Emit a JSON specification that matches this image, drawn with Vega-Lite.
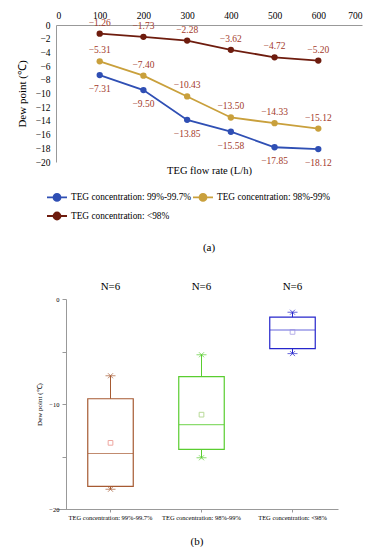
{
  "$schema": "https://vega.github.io/schema/vega-lite/v6.json",
  "background": "white",
  "padding": {"left": 16, "top": 10, "right": 5, "bottom": 0},
  "spacing": 28,
  "resolve": {"scale": {"color": "independent", "stroke": "independent"}, "legend": {"color": "independent", "stroke": "independent"}},
  "config": {
    "font": "Liberation Serif",
    "view": {"stroke": null},
    "axis": {"grid": false, "labelColor": "#000", "titleColor": "#000", "titleFontWeight": "normal", "domainColor": "#999", "tickColor": "#999", "labelFont": "Liberation Serif", "titleFont": "Liberation Serif"},
    "legend": {"labelFont": "Liberation Serif"},
    "text": {"font": "Liberation Serif"},
    "title": {"fontWeight": "normal", "color": "#000", "font": "Liberation Serif"}
  },
  "vconcat": [
    {
      "width": 306,
      "height": 137,
      "title": {"text": "(a)", "orient": "bottom", "fontSize": 11, "offset": 18},
      "data": {"values": [
        {"flow": 100, "dew": -7.31, "conc": "TEG concentration: 99%-99.7%"},
        {"flow": 200, "dew": -9.50, "conc": "TEG concentration: 99%-99.7%"},
        {"flow": 300, "dew": -13.85, "conc": "TEG concentration: 99%-99.7%"},
        {"flow": 400, "dew": -15.58, "conc": "TEG concentration: 99%-99.7%"},
        {"flow": 500, "dew": -17.85, "conc": "TEG concentration: 99%-99.7%"},
        {"flow": 600, "dew": -18.12, "conc": "TEG concentration: 99%-99.7%"},
        {"flow": 100, "dew": -5.31, "conc": "TEG concentration: 98%-99%"},
        {"flow": 200, "dew": -7.40, "conc": "TEG concentration: 98%-99%"},
        {"flow": 300, "dew": -10.43, "conc": "TEG concentration: 98%-99%"},
        {"flow": 400, "dew": -13.50, "conc": "TEG concentration: 98%-99%"},
        {"flow": 500, "dew": -14.33, "conc": "TEG concentration: 98%-99%"},
        {"flow": 600, "dew": -15.12, "conc": "TEG concentration: 98%-99%"},
        {"flow": 100, "dew": -1.26, "conc": "TEG concentration: <98%"},
        {"flow": 200, "dew": -1.73, "conc": "TEG concentration: <98%"},
        {"flow": 300, "dew": -2.28, "conc": "TEG concentration: <98%"},
        {"flow": 400, "dew": -3.62, "conc": "TEG concentration: <98%"},
        {"flow": 500, "dew": -4.72, "conc": "TEG concentration: <98%"},
        {"flow": 600, "dew": -5.20, "conc": "TEG concentration: <98%"}
      ]},
      "encoding": {
        "y": {"field": "dew", "type": "quantitative", "scale": {"domain": [-20, 0], "nice": false},
          "axis": {"values": [0, -2, -4, -6, -8, -10, -12, -14, -16, -18, -20], "title": "Dew point (℃)", "ticks": false, "labelPadding": 6, "labelFontSize": 9.5, "titleFontSize": 11, "titlePadding": 8}}
      },
      "layer": [
        {
          "mark": {"type": "line", "strokeWidth": 1.8, "point": {"filled": true, "size": 40}},
          "encoding": {
            "x": {"field": "flow", "type": "quantitative", "scale": {"domain": [0, 700], "nice": false},
              "axis": {"orient": "top", "title": null, "values": [0, 100, 200, 300, 400, 500, 600, 700], "ticks": false, "labelPadding": 5, "labelFontSize": 9.5}},
            "color": {"field": "conc", "type": "nominal", "sort": null,
              "scale": {"domain": ["TEG concentration: 99%-99.7%", "TEG concentration: 98%-99%", "TEG concentration: <98%"], "range": ["#2F4FB4", "#C9A03C", "#6E1C0E"]},
              "legend": {"orient": "none", "direction": "horizontal", "legendX": -10, "legendY": 161, "padding": 0, "columns": 2, "title": null, "symbolType": "M-1,0H1M0.35,0A0.35,0.35,0,1,1,-0.35,0A0.35,0.35,0,1,1,0.35,0Z", "symbolSize": 400, "symbolStrokeWidth": 1.8, "labelFontSize": 9.3, "labelOffset": 3, "columnPadding": -6, "rowPadding": -6, "labelLimit": 300, "labelColor": "#000"}}
          }
        },
        {
          "transform": [{"filter": "datum.conc == 'TEG concentration: 99%-99.7%'"}],
          "mark": {"type": "text", "dy": 14, "fontSize": 9.5, "color": "#A33A2A"},
          "encoding": {
            "x": {"field": "flow", "type": "quantitative",
              "axis": {"orient": "bottom", "labels": false, "ticks": false, "domain": false, "title": "TEG flow rate (L/h)", "titleFontSize": 10.5, "titlePadding": 3}},
            "text": {"field": "dew", "type": "quantitative", "format": ".2f"}
          }
        },
        {
          "transform": [{"filter": "datum.conc != 'TEG concentration: 99%-99.7%'"}],
          "mark": {"type": "text", "dy": -11, "fontSize": 9.5, "color": "#A33A2A"},
          "encoding": {
            "x": {"field": "flow", "type": "quantitative", "axis": null},
            "text": {"field": "dew", "type": "quantitative", "format": ".2f"}
          }
        }
      ]
    },
    {
      "width": 282,
      "height": 210,
      "title": {"text": "(b)", "orient": "bottom", "fontSize": 11, "offset": 15},
      "data": {"values": [
        {"conc": "TEG concentration: 99%-99.7%", "min": -18.12, "q1": -17.85, "median": -14.715, "q3": -9.50, "max": -7.31, "mean": -13.70, "n": "N=6"},
        {"conc": "TEG concentration: 98%-99%", "min": -15.12, "q1": -14.33, "median": -11.965, "q3": -7.40, "max": -5.31, "mean": -11.015, "n": "N=6"},
        {"conc": "TEG concentration: <98%", "min": -5.20, "q1": -4.72, "median": -2.95, "q3": -1.73, "max": -1.26, "mean": -3.135, "n": "N=6"}
      ]},
      "encoding": {
        "x": {"field": "conc", "type": "nominal", "sort": null,
          "scale": {"paddingInner": 0, "paddingOuter": 0.0495, "align": 1},
          "axis": {"title": null, "labelAngle": 0, "labelFontSize": 6.5, "tickSize": 3, "labelPadding": 2, "encode": {"domain": {"update": {"x": {"value": 10}}}}}},
        "color": {"field": "conc", "type": "nominal", "sort": null, "legend": null,
          "scale": {"domain": ["TEG concentration: 99%-99.7%", "TEG concentration: 98%-99%", "TEG concentration: <98%"], "range": ["#A65A32", "#5ACD30", "#2626CC"]}}
      },
      "layer": [
        {
          "mark": {"type": "rule", "strokeWidth": 1},
          "encoding": {
            "y": {"field": "q3", "type": "quantitative", "scale": {"domain": [-20, 0], "nice": false},
              "axis": {"title": "Dew point (℃)", "values": [0, -5, -10, -15, -20], "labelExpr": "datum.value % 10 == 0 ? datum.label : ''", "labelFontSize": 6.5, "titleFontSize": 7, "tickSize": 4, "labelPadding": 3, "titlePadding": 6, "offset": -10}},
            "y2": {"field": "max"}
          }
        },
        {
          "mark": {"type": "rule", "strokeWidth": 1},
          "encoding": {"y": {"field": "min", "type": "quantitative"}, "y2": {"field": "q1"}}
        },
        {
          "mark": {"type": "bar", "filled": false, "width": {"band": 0.5}, "strokeWidth": 1.2},
          "encoding": {"y": {"field": "q1", "type": "quantitative"}, "y2": {"field": "q3"}}
        },
        {
          "mark": {"type": "tick", "orient": "horizontal", "size": 45, "thickness": 1.2},
          "encoding": {"y": {"field": "median", "type": "quantitative"}}
        },
        {
          "mark": {"type": "tick", "orient": "horizontal", "size": 10, "thickness": 1},
          "encoding": {"y": {"field": "max", "type": "quantitative"}}
        },
        {
          "mark": {"type": "tick", "orient": "horizontal", "size": 10, "thickness": 1},
          "encoding": {"y": {"field": "min", "type": "quantitative"}}
        },
        {
          "mark": {"type": "point", "shape": "M-1,-1L1,1M-1,1L1,-1", "filled": false, "size": 25, "strokeWidth": 1},
          "encoding": {"y": {"field": "max", "type": "quantitative"}}
        },
        {
          "mark": {"type": "point", "shape": "M-1,-1L1,1M-1,1L1,-1", "filled": false, "size": 25, "strokeWidth": 1},
          "encoding": {"y": {"field": "min", "type": "quantitative"}}
        },
        {
          "mark": {"type": "point", "shape": "square", "filled": false, "size": 22, "strokeWidth": 1},
          "encoding": {
            "y": {"field": "mean", "type": "quantitative"},
            "color": {"value": null},
            "stroke": {"field": "conc", "type": "nominal", "sort": null, "legend": null,
              "scale": {"domain": ["TEG concentration: 99%-99.7%", "TEG concentration: 98%-99%", "TEG concentration: <98%"], "range": ["#E8837A", "#9CCB6E", "#9A90E0"]}}
          }
        },
        {
          "mark": {"type": "text", "dy": -12, "fontSize": 11, "color": "#000"},
          "encoding": {
            "y": {"datum": 0, "type": "quantitative"},
            "text": {"field": "n", "type": "nominal"},
            "color": {"value": "#000"}
          }
        }
      ]
    }
  ]
}
